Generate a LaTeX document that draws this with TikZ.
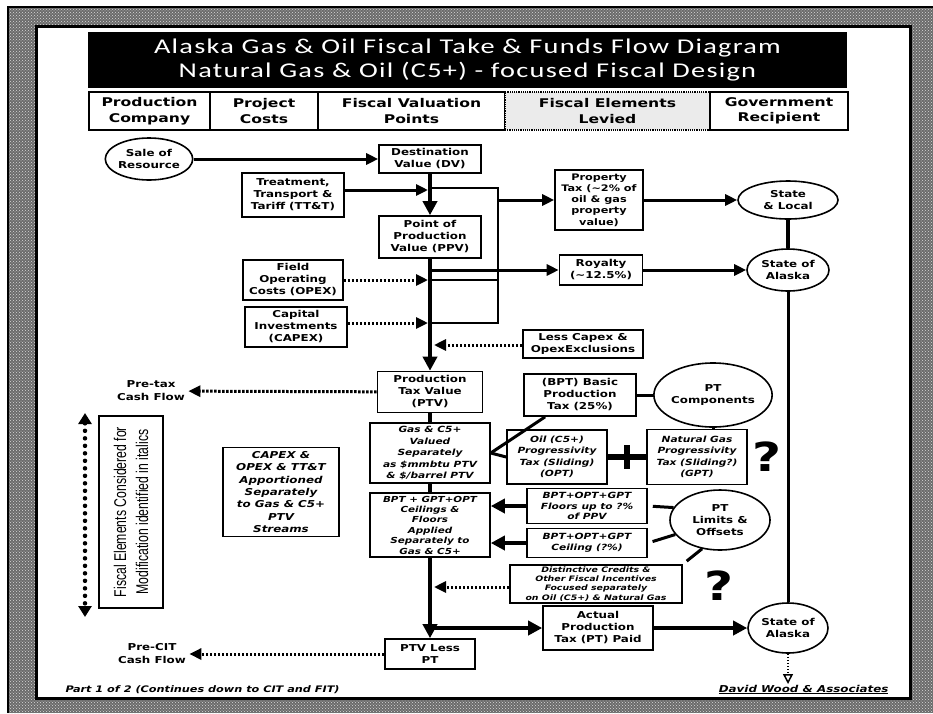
\documentclass[tikz,border=0pt]{standalone}
\usepackage{fontspec}
\setmainfont[FakeStretch=1.25]{DejaVu Sans}
\newfontfamily\hdrfont[FakeStretch=1.3]{DejaVu Sans}
\newfontfamily\titlefont[FakeStretch=1.35,LetterSpace=6]{Carlito}
\newfontfamily\narrowfont[FakeStretch=0.72]{Liberation Sans}
\usetikzlibrary{arrows.meta,shapes.geometric,patterns}

\tikzset{
  box/.style={draw, line width=1.6, fill=white, align=center, inner sep=1pt,
    font=\bfseries\fontsize{9.5}{12}\selectfont},
  ibox/.style={box, font=\bfseries\itshape\fontsize{8.5}{11.5}\selectfont},
  oval/.style={box, ellipse, inner sep=0pt},
  hdr/.style={draw, line width=1.2, fill=white, minimum height=38pt, align=center,
    font=\hdrfont\bfseries\fontsize{12}{15.5}\selectfont},
  cashlabel/.style={align=center, font=\bfseries\fontsize{9.5}{13}\selectfont},
  bigq/.style={inner sep=0pt, font=\bfseries\fontsize{40}{40}\selectfont},
  flow/.style={line width=3, -{Triangle[length=12pt,width=11pt]}},
  mainflow/.style={flow, line width=4.5, -{Triangle[length=14pt,width=14pt]}},
  dotflow/.style={flow, dash pattern=on 2.5pt off 1.5pt},
  trunk/.style={line width=4.5},
  link/.style={line width=3},
  bracket/.style={line width=1.6},
  spoke/.style={line width=3, shorten >=5pt},
}

\begin{document}
\begin{tikzpicture}[x=1pt, y=-1pt]
  \useasboundingbox (0,0) rectangle (933,713);

  % scanned frame
  \fill[black!58] (8,7) rectangle (933,713);
  \fill[pattern=crosshatch dots, pattern color=black!15] (8,7) rectangle (933,713);
  \draw[line width=1.5] (8,713) -- (8,7) -- (933,7);
  \draw[line width=3, fill=white] (36,26) rectangle (910,698);

  \node[fill=black, text=white, minimum width=759pt, minimum height=56pt, align=center,
    font=\titlefont\fontsize{21}{24}\selectfont] (title) at (467.5,60)
    {Alaska Gas \& Oil Fiscal Take \& Funds Flow Diagram\\Natural Gas \& Oil (C5+) - focused Fiscal Design};

  \node[hdr, minimum width=121pt] (hprod) at (149.5,111) {Production\\Company};
  \node[hdr, minimum width=108pt] (hcost) at (264,111) {Project\\Costs};
  \node[hdr, minimum width=187pt] (hval) at (411.5,111) {Fiscal Valuation\\Points};
  \node[hdr, minimum width=205pt, fill=black!8, densely dotted] (hlevy) at (607.5,111) {Fiscal Elements\\Levied};
  \node[hdr, minimum width=138pt] (hgov) at (779,111) {Government\\Recipient};

  % valuation chain
  \node[oval, minimum width=78pt, minimum height=42pt] (sale) at (149,159) {Sale of\\Resource};
  \node[box, minimum width=102pt, minimum height=28pt] (dv) at (430,159) {Destination\\Value (DV)};
  \node[box, minimum width=102pt, minimum height=44pt] (ttt) at (293,195) {Treatment,\\Transport \&\\Tariff (TT\&T)};
  \node[box, minimum width=102pt, minimum height=42pt] (ppv) at (430,237) {Point of\\Production\\Value (PPV)};
  \node[box, minimum width=100pt, minimum height=40pt] (opex) at (293,280) {Field\\Operating\\Costs (OPEX)};
  \node[box, minimum width=102pt, minimum height=40pt] (capex) at (296,327) {Capital\\Investments\\(CAPEX)};
  \node[box, minimum width=120pt, minimum height=28pt] (less) at (583,344) {Less Capex \&\\OpexExclusions};
  \node[box, minimum width=105pt, minimum height=41pt] (ptv) at (430,392) {Production\\Tax Value\\(PTV)};

  \node[box, minimum width=88pt, minimum height=60pt, font=\bfseries\fontsize{9}{11.3}\selectfont] (proptax) at (599,200)
    {Property\\Tax (\textasciitilde2\% of\\oil \& gas\\property\\value)};
  \node[box, minimum width=83pt, minimum height=30pt] (royalty) at (601,270) {Royalty\\(\textasciitilde12.5\%)};
  \node[oval, minimum width=100pt, minimum height=38pt] (local) at (788,200) {State\\\& Local};
  \node[oval, minimum width=82pt, minimum height=42pt] (akroy) at (788,270) {State of\\Alaska};

  % production tax
  \node[box, minimum width=112pt, minimum height=42pt] (bpt) at (580,395) {(BPT) Basic\\Production\\Tax (25\%)};
  \node[oval, minimum width=100pt, minimum height=64pt] (ptparts) at (713,395) {PT\\Components};
  \node[ibox, minimum width=120pt, minimum height=60pt] (split) at (430,453)
    {Gas \& C5+\\Valued\\Separately\\as \$mmbtu PTV\\\& \$/barrel PTV};
  \node[ibox, minimum width=100pt, minimum height=54pt] (opt) at (557,457) {Oil (C5+)\\Progressivity\\Tax (Sliding)\\(OPT)};
  \node[ibox, minimum width=100pt, minimum height=55pt] (gpt) at (697,457) {Natural Gas\\Progressivity\\Tax (Sliding?)\\(GPT)};
  \node[bigq] (qgpt) at (767,457) {?};

  \node[ibox, minimum width=120pt, minimum height=64pt, font=\bfseries\itshape\fontsize{8.3}{10.4}\selectfont] (caps) at (430,525)
    {BPT + GPT+OPT\\Ceilings \&\\Floors\\Applied\\Separately to\\Gas \& C5+};
  \node[ibox, minimum width=120pt, minimum height=35pt, font=\bfseries\itshape\fontsize{8.5}{10.5}\selectfont] (floors) at (587,506)
    {BPT+OPT+GPT\\Floors up to ?\%\\of PPV};
  \node[ibox, minimum width=120pt, minimum height=29pt, font=\bfseries\itshape\fontsize{8.5}{11}\selectfont] (ceiling) at (587,543)
    {BPT+OPT+GPT\\Ceiling (?\%)};
  \node[oval, minimum width=100pt, minimum height=60pt] (limits) at (720,520) {PT\\Limits \&\\Offsets};
  \node[ibox, minimum width=172pt, minimum height=38pt, font=\bfseries\itshape\fontsize{7.5}{9.2}\selectfont] (credits) at (596,584)
    {Distinctive Credits \&\\Other Fiscal Incentives\\Focused separately\\on Oil (C5+) \& Natural Gas};
  \node[bigq] (qcred) at (719,586) {?};

  \node[box, minimum width=110pt, minimum height=44pt] (actual) at (598,628) {Actual\\Production\\Tax (PT) Paid};
  \node[oval, minimum width=80pt, minimum height=50pt] (akpt) at (788,628) {State of\\Alaska};
  \node[box, minimum width=90pt, minimum height=30pt] (ptvless) at (430,654) {PTV Less\\PT};

  \node[cashlabel] (pretax) at (151,391) {Pre-tax\\Cash Flow};
  \node[cashlabel] (precit) at (152,654) {Pre-CIT\\Cash Flow};

  \node[ibox, minimum width=116pt, minimum height=89pt, font=\bfseries\itshape\fontsize{9.5}{12.3}\selectfont] (apport) at (281,492)
    {CAPEX \&\\OPEX \& TT\&T\\Apportioned\\Separately\\to Gas \& C5+\\PTV\\Streams};
  \node[draw, line width=1.6, rotate=90, minimum width=192pt, minimum height=64pt, align=center,
    font=\narrowfont\fontsize{17}{22}\selectfont] (italnote) at (131,512)
    {Fiscal Elements Considered for\\Modification identified in italics};

  \node[anchor=base west, font=\bfseries\itshape\fontsize{9}{10}\selectfont] (part) at (62,692)
    {Part 1 of 2 (Continues down to CIT and FIT)};
  \node[anchor=base east, font=\bfseries\itshape\fontsize{9.5}{10}\selectfont] (firm) at (892,692)
    {\underline{David Wood \& Associates}};

  % joins on the main line
  \coordinate (jtt) at (428,190);
  \coordinate (jop) at (428,280);
  \coordinate (jcap) at (428,323);
  \coordinate (jless) at (434,345);
  \coordinate (jroy) at (430,270);
  \coordinate (jcred) at (434,587);
  \coordinate (jact) at (430,628);
  \coordinate (ctl) at (430,188);
  \coordinate (ctr) at (498,188);
  \coordinate (cbr) at (498,323);
  \coordinate (cbl) at (430,323);
  \coordinate (cop) at (498,280);
  \coordinate (jprop) at (498,200);
  \coordinate (plus) at (627,457);
  \coordinate (akout) at (788,684);
  \coordinate (modtop) at (85,413);
  \coordinate (modbot) at (85,617);

  \draw[flow] (sale) -- (dv);
  \draw[mainflow] (dv) -- (ppv);
  \draw[mainflow] (ppv) -- (ptv);
  \draw[trunk] (ptv) -- (split);
  \draw[trunk] (split) -- (caps);
  \draw[mainflow] (caps) -- (ptvless);

  \draw[bracket] (ctl) -- (ctr) -- (cbr) -- (cbl);
  \draw[bracket] (jop) -- (cop);
  \draw[flow] (ttt.east |- jtt) -- (jtt);
  \draw[dotflow] (opex.east |- jop) -- (jop);
  \draw[dotflow] (capex.east |- jcap) -- (jcap);
  \draw[dotflow] (less.west |- jless) -- (jless);

  \draw[flow] (jprop) -- (proptax);
  \draw[flow] (jroy) -- (royalty);
  \draw[flow] (proptax) -- (local);
  \draw[flow] (royalty) -- (akroy);
  \draw[trunk] (local) -- (akroy);
  \draw[link] (akroy) -- (akpt);

  \draw[dotflow] (ptv) -- (pretax);
  \draw[link] (split.east) -- (bpt.-148);
  \draw[link] (split.east) -- (opt.west);
  \draw[link] (bpt) -- (ptparts);
  \draw[link] (ptparts.south) -- (ptparts.south |- gpt.north);
  \draw[line width=6] (opt) -- (gpt);
  \draw[line width=6] (plus) ++(0,-12) -- ++(0,24);

  \draw[mainflow] (floors) -- (caps.east |- floors);
  \draw[mainflow] (ceiling) -- (caps.east |- ceiling);
  \draw[spoke] (limits.165) -- (floors.east);
  \draw[spoke] (limits.198) -- (ceiling.east);
  \draw[spoke] (limits.238) -- (credits.north east);
  \draw[dotflow] (credits.west |- jcred) -- (jcred);

  \draw[mainflow] (jact) -- (actual);
  \draw[mainflow] (actual) -- (akpt);
  \draw[dotflow] (ptvless) -- (precit);
  \draw[line width=1.5, dash pattern=on 1.5pt off 1.5pt, -{Triangle[open,length=10pt,width=10pt]}] (akpt) -- (akout);

  \draw[line width=4.5, line cap=round, dash pattern=on 0pt off 7.5pt,
    {Triangle[length=11pt,width=13pt]}-{Triangle[length=11pt,width=13pt]}] (modtop) -- (modbot);

\end{tikzpicture}
\end{document}
